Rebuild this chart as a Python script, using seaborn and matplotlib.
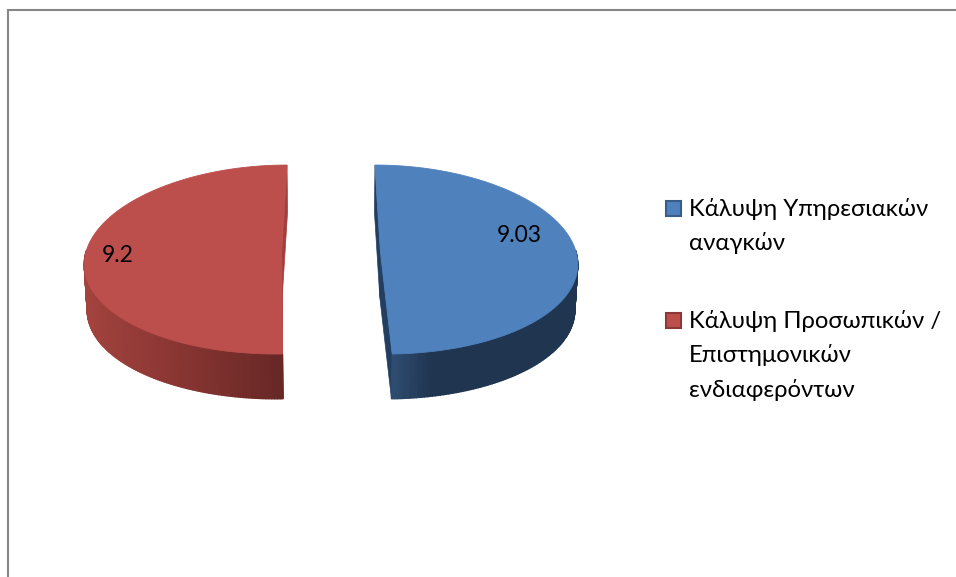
from matplotlib import pyplot as plt
import seaborn as sns
import numpy as np

sns.set_theme(style="white")
plt.rcParams['font.family'] = ['Lato', 'Noto Sans', 'DejaVu Sans']

labels = ['Κάλυψη Υπηρεσιακών\nαναγκών', 'Κάλυψη Προσωπικών /\nΕπιστημονικών\nενδιαφερόντων']
values = [9.03, 9.2]
top_colors = ['#4f81bd', '#bc4f4c']
edge_colors = ['#385d8a', '#8c3836']
cut_colors = ['#223f61', '#a23f3c']
rim_colors = [['#1f3550', '#1f3550', '#1f3550', '#1f3550', '#1f3550', '#2f4e72'], ['#a5443f', '#8a3633', '#662725']]

# pie geometry, in pixels of the figure
CX, CY = 331, 251.5
RX, RY = 195.5, 94.5
EXPLODE = 49.4 / RX
PERSP_X, PERSP_Y = 0.11, 0.085
DEPTH, SHRINK = 46, 0.012
FONT = 17.2


def project(u, v, z=0.0):
    # u to the right, v to the back of the pie, z down through the pie
    x = CX + RX * u * (1 - PERSP_X * v)
    y = CY - RY * v * (1 - PERSP_Y * v)
    f = 1 - SHRINK * z
    return CX + (x - CX) * f, CY + (y - CY) * f + DEPTH * z


fig, ax = plt.subplots(figsize=(9.56, 5.77), dpi=100)
ax.set_position([0, 0, 1, 1])
ax.set_xlim(0, 956)
ax.set_ylim(577, 0)
ax.axis('off')

# frame of the chart area, cut by the picture on right and bottom
ax.plot([8, 8, 956], [577, 10, 10], color='#868686', lw=1.5, solid_joinstyle='miter')

angles = np.cumsum([0] + values) / sum(values) * 2 * np.pi

for i in range(len(values)):
    a0, a1 = angles[i], angles[i + 1]
    mid = (a0 + a1) / 2
    off_u = EXPLODE * np.sign(np.sin(mid))
    t = np.linspace(a0, a1, 241)
    u = off_u + np.sin(t)
    v = np.cos(t)

    # cut faces from the rim to the apex
    for a in (a0, a1):
        uu = np.array([off_u, off_u + np.sin(a)])
        vv = np.array([0, np.cos(a)])
        x0, y0 = project(uu, vv, 0)
        x1, y1 = project(uu, vv, 1)
        ax.fill(np.r_[x0, x1[::-1]], np.r_[y0, y1[::-1]], color=cut_colors[i], lw=0.5, zorder=2)

    # outer wall, only the part facing the viewer, shaded along x
    front = np.where(v < 0.02)[0]
    if i == 1:
        front = front[::-1]
    shades = sns.blend_palette(rim_colors[i], 100)
    span = abs(u[front[-1]] - u[front[0]])
    for k in range(len(front) - 1):
        j0, j1 = sorted((front[k], front[k + 1]))
        frac = abs(u[front[k]] - u[front[0]]) / span
        x0, y0 = project(u[j0:j1 + 1], v[j0:j1 + 1], 0)
        x1, y1 = project(u[j0:j1 + 1], v[j0:j1 + 1], 1)
        ax.fill(np.r_[x0, x1[::-1]], np.r_[y0, y1[::-1]], color=shades[int(frac * 99)], lw=1.0, zorder=3)

    # top face
    x, y = project(np.r_[off_u, u], np.r_[0, v], 0)
    ax.fill(x, y, facecolor=top_colors[i], edgecolor=top_colors[i], lw=0.6, zorder=4)

# value labels
ax.text(519, 236, f'{values[0]:g}', fontsize=16.5, color='black', ha='center', va='center', zorder=5)
ax.text(118, 255, f'{values[1]:g}', fontsize=16.5, color='black', ha='center', va='center', zorder=5)

# legend
legend_y = [209, 321]
for i in range(len(labels)):
    ax.add_patch(plt.Rectangle((666.5, legend_y[i] - 8), 15, 15, facecolor=top_colors[i],
                               edgecolor=edge_colors[i], lw=1.5, zorder=5))
    for n, line in enumerate(labels[i].split('\n')):
        ax.text(689, legend_y[i] + n * 34.5, line, fontsize=FONT, color='black', ha='left', va='center', zorder=5)

plt.savefig('out.png', dpi=100)
